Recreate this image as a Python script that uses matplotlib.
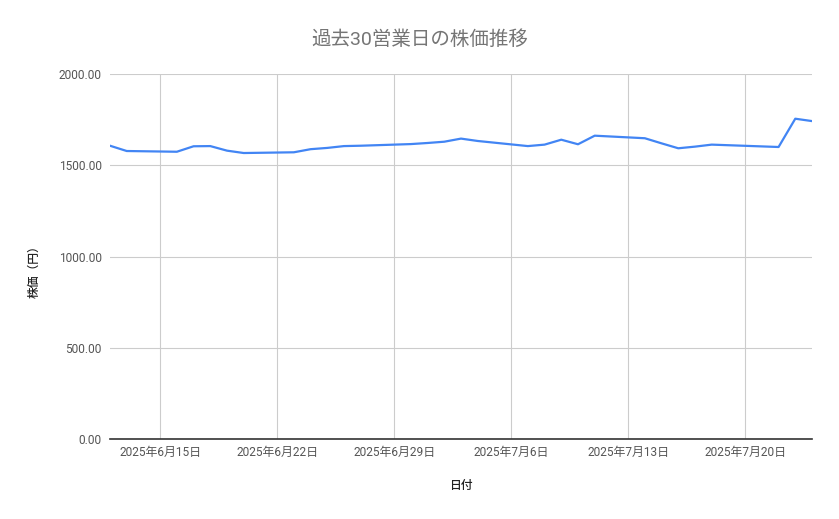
import datetime as dt

import matplotlib
matplotlib.use('Agg')
import matplotlib.pyplot as plt
import matplotlib.dates as mdates
from matplotlib.ticker import FuncFormatter

plt.rcParams['font.family'] = ['Roboto', 'Noto Sans CJK JP', 'DejaVu Sans']

# 営業日 (7/21 は祝日)
dates = [
    '2025-06-12', '2025-06-13',
    '2025-06-16', '2025-06-17', '2025-06-18', '2025-06-19', '2025-06-20',
    '2025-06-23', '2025-06-24', '2025-06-25', '2025-06-26', '2025-06-27',
    '2025-06-30', '2025-07-01', '2025-07-02', '2025-07-03', '2025-07-04',
    '2025-07-07', '2025-07-08', '2025-07-09', '2025-07-10', '2025-07-11',
    '2025-07-14', '2025-07-15', '2025-07-16', '2025-07-17', '2025-07-18',
    '2025-07-22', '2025-07-23', '2025-07-24',
]
prices = [
    1607, 1578,
    1574, 1604, 1605, 1580, 1567,
    1571, 1588, 1595, 1605, 1607,
    1616, 1622, 1629, 1646, 1633,
    1605, 1613, 1640, 1615, 1662,
    1648, 1620, 1593, 1602, 1613,
    1600, 1755, 1742,
]
date_ticks = ['2025-06-15', '2025-06-22', '2025-06-29',
              '2025-07-06', '2025-07-13', '2025-07-20']
y_ticks = [0, 500, 1000, 1500, 2000]

x = [dt.datetime.strptime(d, '%Y-%m-%d') for d in dates]
xt = [dt.datetime.strptime(d, '%Y-%m-%d') for d in date_ticks]

fig = plt.figure(figsize=(8.39, 5.19), dpi=100)
ax = fig.add_axes([110 / 839, 80 / 519, 702 / 839, 365 / 519])

ax.plot(x, prices, color='#4285F4', lw=1.6, solid_joinstyle='round')

ax.set_xlim(x[0], x[-1])
ax.set_ylim(0, 2000)
ax.set_yticks(y_ticks)
ax.yaxis.set_major_formatter(FuncFormatter(lambda v, p: f'{v:.2f}'))
ax.set_xticks(xt)
ax.xaxis.set_major_formatter(
    FuncFormatter(lambda v, p: (lambda d: f'{d.year}年{d.month}月{d.day}日')(mdates.num2date(v))))

ax.grid(True, color='#cccccc', lw=0.8)
ax.set_axisbelow(True)
ax.spines[['left', 'right', 'top']].set_visible(False)
ax.spines['bottom'].set_color('#333333')
ax.spines['bottom'].set_linewidth(1.2)
ax.spines['bottom'].set_zorder(3)
ax.tick_params(length=0, colors='#555555', labelsize=8.6)
ax.tick_params(axis='y', pad=6)
ax.tick_params(axis='x', pad=5)

fig.text(420 / 839, 1 - 40 / 519, '過去30営業日の株価推移', ha='center', va='center',
         fontsize=14, color='#757575')
fig.text(34 / 839, 1 - 269 / 519, '株価（円）', ha='center', va='center', rotation=90,
         fontsize=8.5, color='#222222', fontweight='medium')
fig.text(461 / 839, 1 - 485 / 519, '日付', ha='center', va='center',
         fontsize=8.5, color='#222222', fontweight='medium')

fig.savefig('out.png', dpi=100)
